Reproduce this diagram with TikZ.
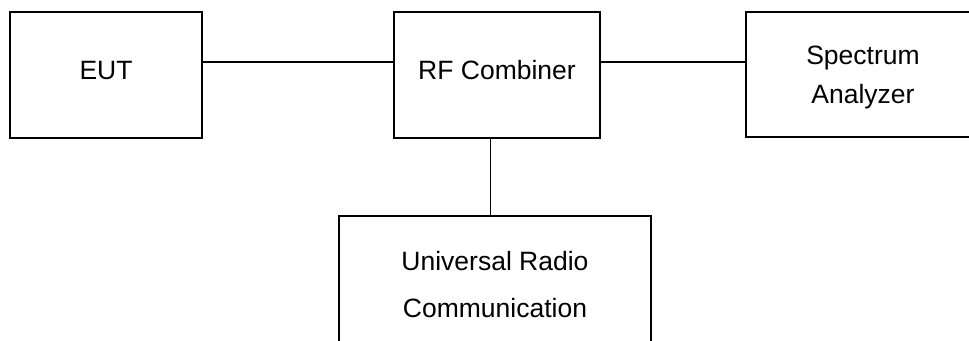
\documentclass[tikz,border=0pt]{standalone}
\usepackage{fontspec}
\setmainfont{Liberation Sans}
\tikzset{
  boxnode/.style={draw=black, line width=2pt, rectangle, inner sep=0pt},
  wire/.style={draw=black, line width=1.3pt},
  lbl/.style={anchor=base, inner sep=0pt, font=\fontsize{26.5}{30}\selectfont}
}
\begin{document}
\begin{tikzpicture}[x=1pt,y=-1pt]
\useasboundingbox (0,0) rectangle (969,340);
\clip (0,0) rectangle (969,340);
\fill[white] (0,0) rectangle (969,340);
% boxes
\node[boxnode, minimum width=192pt, minimum height=126.3pt] (eut) at (106,74.85) {};
\node[boxnode, minimum width=205.4pt, minimum height=126.3pt] (rf) at (497,74.85) {};
\node[boxnode, minimum width=260pt, minimum height=125pt] (sa) at (876,74.2) {};
\node[boxnode, minimum width=311.7pt, minimum height=160pt] (urc) at (494.85,296) {};
% labels
\node[lbl] (eutt) at (106,79) {EUT};
\node[lbl] (rft) at (497,79) {RF Combiner};
\node[lbl] (sat1) at (863,64.3) {Spectrum};
\node[lbl] (sat2) at (863,103) {Analyzer};
\node[lbl] (urct1) at (495,270) {Universal Radio};
\node[lbl] (urct2) at (495,317.7) {Communication};
% connectors
\draw[wire] ([yshift=12.85pt]eut.east) -- ([yshift=12.85pt]rf.west);
\draw[wire] ([yshift=12.85pt]rf.east) -- ([yshift=12.85pt]rf.east -| sa.west);
\draw[wire] ([xshift=-6.3pt]rf.south) -- ([xshift=-6.3pt]rf.south |- urc.north);
\end{tikzpicture}
\end{document}
